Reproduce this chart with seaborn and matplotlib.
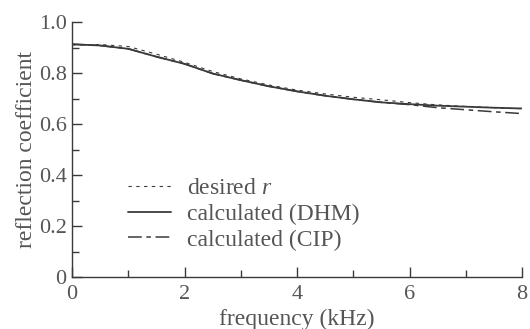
import numpy as np
import pandas as pd
import matplotlib
matplotlib.use("Agg")
import matplotlib.pyplot as plt
import seaborn as sns
from matplotlib.ticker import MultipleLocator

freq = [0, 0.5, 1, 1.5, 2, 2.5, 3, 3.5, 4, 4.5, 5, 5.5, 6, 6.5, 7, 7.5, 8]
desired = [0.910, 0.912, 0.904, 0.874, 0.842, 0.806, 0.777, 0.753, 0.733, 0.718, 0.705, 0.695, 0.684, 0.675, 0.669, 0.664, 0.660]
dhm = [0.913, 0.908, 0.895, 0.864, 0.836, 0.798, 0.772, 0.748, 0.728, 0.711, 0.697, 0.685, 0.678, 0.672, 0.668, 0.664, 0.661]
cip = [0.913, 0.908, 0.895, 0.864, 0.836, 0.798, 0.772, 0.748, 0.728, 0.711, 0.697, 0.685, 0.676, 0.664, 0.656, 0.648, 0.641]
labels = ["desired $r$", "calculated (DHM)", "calculated (CIP)"]

df = pd.concat([
    pd.DataFrame({"f": freq, "r": desired, "s": labels[0]}),
    pd.DataFrame({"f": freq, "r": dhm, "s": labels[1]}),
    pd.DataFrame({"f": freq, "r": cip, "s": labels[2]}),
])

sns.set_style("ticks")
plt.rcParams["font.family"] = ["Liberation Serif", "DejaVu Serif"]
plt.rcParams["mathtext.fontset"] = "custom"
plt.rcParams["mathtext.it"] = "Liberation Serif:italic"
tc = "#555555"
lc = "#3a3a3a"

fig = plt.figure(figsize=(5.30, 3.29), dpi=100)
ax = fig.add_axes([0.136, 0.158, 0.849, 0.775])

sns.lineplot(data=df, x="f", y="r", style="s", ax=ax, color=lc,
             dashes={labels[0]: (3, 4), labels[1]: "", labels[2]: (9, 3, 3, 3)},
             size="s", sizes={labels[0]: 0.8, labels[1]: 1.3, labels[2]: 1.1},
             legend=True)

ax.set_xlim(0, 8)
ax.set_ylim(0, 1.0)
ax.xaxis.set_minor_locator(MultipleLocator(1))
ax.yaxis.set_minor_locator(MultipleLocator(0.1))
ax.set_yticks([0, 0.2, 0.4, 0.6, 0.8, 1.0])
ax.set_yticklabels(["0", "0.2", "0.4", "0.6", "0.8", "1.0"])
ax.set_xticks([0, 2, 4, 6, 8])
ax.set_xticklabels(["0", "2", "4", "6", "8"])
ax.tick_params(which="major", direction="in", length=7.5, width=1, colors=lc,
               labelcolor=tc, labelsize=16, pad=6)
ax.tick_params(which="minor", direction="in", length=5, width=1, colors=lc)
ax.tick_params(axis="y", which="major", pad=4)
for s in ["top", "right"]:
    ax.spines[s].set_visible(False)
for s in ["left", "bottom"]:
    ax.spines[s].set_color(lc)
    ax.spines[s].set_linewidth(1.0)

ax.set_xlabel("frequency (kHz)", fontsize=17, color=tc, labelpad=3)
ax.set_ylabel("reflection coefficient", fontsize=17, color=tc, labelpad=1)

handles, labs = ax.get_legend_handles_labels()
ax.legend(handles, labs, loc="upper left", bbox_to_anchor=(0.242, 0.46),
          bbox_transform=fig.transFigure, frameon=False, fontsize=17,
          labelcolor=tc, handlelength=1.8, handletextpad=0.7, labelspacing=0.18,
          borderpad=0, borderaxespad=0)

fig.savefig("out.png", dpi=100)
